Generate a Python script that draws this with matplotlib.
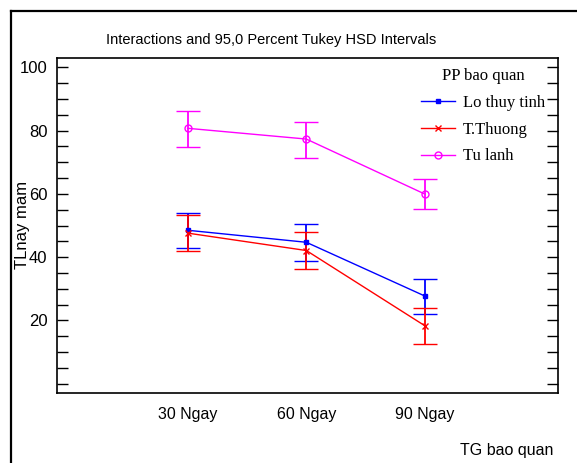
import numpy as np
import matplotlib.pyplot as plt
from matplotlib.lines import Line2D

# data
groups = ["30 Ngay", "60 Ngay", "90 Ngay"]
series = ["Lo thuy tinh", "T.Thuong", "Tu lanh"]
lo_mean = [48.5, 44.7, 27.7]
lo_low = [43.0, 38.8, 22.0]
lo_high = [54.1, 50.4, 33.2]
tt_mean = [47.6, 42.1, 18.3]
tt_low = [41.8, 36.2, 12.7]
tt_high = [53.3, 47.8, 24.0]
tu_mean = [80.7, 77.3, 59.9]
tu_low = [74.9, 71.4, 55.2]
tu_high = [86.2, 82.8, 64.8]

sans = ['Liberation Sans', 'DejaVu Sans']
serif = ['Liberation Serif', 'DejaVu Serif']

fig = plt.figure(figsize=(5.77, 4.63), dpi=100)
ax = fig.add_axes([57/577, 1-393/463, (558-57)/577, (393-58)/463])

x = np.arange(1, len(groups)+1)
styles = [
    (lo_mean, lo_low, lo_high, '#0000ff', 's', 3, 'full'),
    (tt_mean, tt_low, tt_high, '#ff0000', 'x', 4, 'full'),
    (tu_mean, tu_low, tu_high, '#ff00ff', 'o', 5, 'none'),
]
handles = []
for name, (m, lo, hi, c, mk, ms, fs) in zip(series, styles):
    m = np.array(m); lo = np.array(lo); hi = np.array(hi)
    ax.errorbar(x, m, yerr=[m-lo, hi-m], color=c, marker=mk, ms=ms,
                fillstyle=fs, mew=1, lw=1, elinewidth=1.3, capsize=8.5,
                capthick=1.3)
    handles.append(Line2D([], [], color=c, marker=mk, ms=ms, fillstyle=fs,
                          mew=1, lw=1, label=name))

ax.set_xlim(-0.1, 4.12)
ax.set_ylim(-2.9, 102.9)
ax.set_xticks(x)
ax.set_xticklabels(groups, family=sans, fontsize=11.5)
ax.tick_params(axis='x', length=0, pad=10)
ax.set_yticks([20, 40, 60, 80, 100])
ax.set_yticks(np.arange(0, 101, 5), minor=True)
ax.tick_params(axis='y', which='both', direction='in', length=8, width=1,
               right=True, pad=7)
for lab in ax.get_yticklabels():
    lab.set_family(sans)
    lab.set_fontsize(12)
for sp in ax.spines.values():
    sp.set_linewidth(1.2)

leg = fig.legend(handles=handles, loc='upper right',
                 bbox_to_anchor=(545/577, 1-68/463), frameon=False,
                 prop={'family': serif, 'size': 12}, title='PP bao quan',
                 title_fontproperties={'family': serif, 'size': 12},
                 borderpad=0, borderaxespad=0,
                 handlelength=2.0, handletextpad=0.5, labelspacing=0.65)

fig.text(271/577, 1-40/463, "Interactions and 95,0 Percent Tukey HSD Intervals",
         ha='center', va='center', family=sans, fontsize=10.5)
fig.text(23/577, 1-225/463, "TLnay mam", rotation=90, ha='center', va='center',
         family=sans, fontsize=12)
fig.text(507/577, 1-450/463, "TG bao quan", ha='center', va='center',
         family=sans, fontsize=11.5)

# outer frame around the plot
fig.add_artist(Line2D([11/577, 11/577], [0, 1-11/463], color='black', lw=1.6,
                      transform=fig.transFigure))
fig.add_artist(Line2D([11/577, 1], [1-11/463, 1-11/463], color='black', lw=1.6,
                      transform=fig.transFigure))

fig.savefig("out.png", dpi=100)
